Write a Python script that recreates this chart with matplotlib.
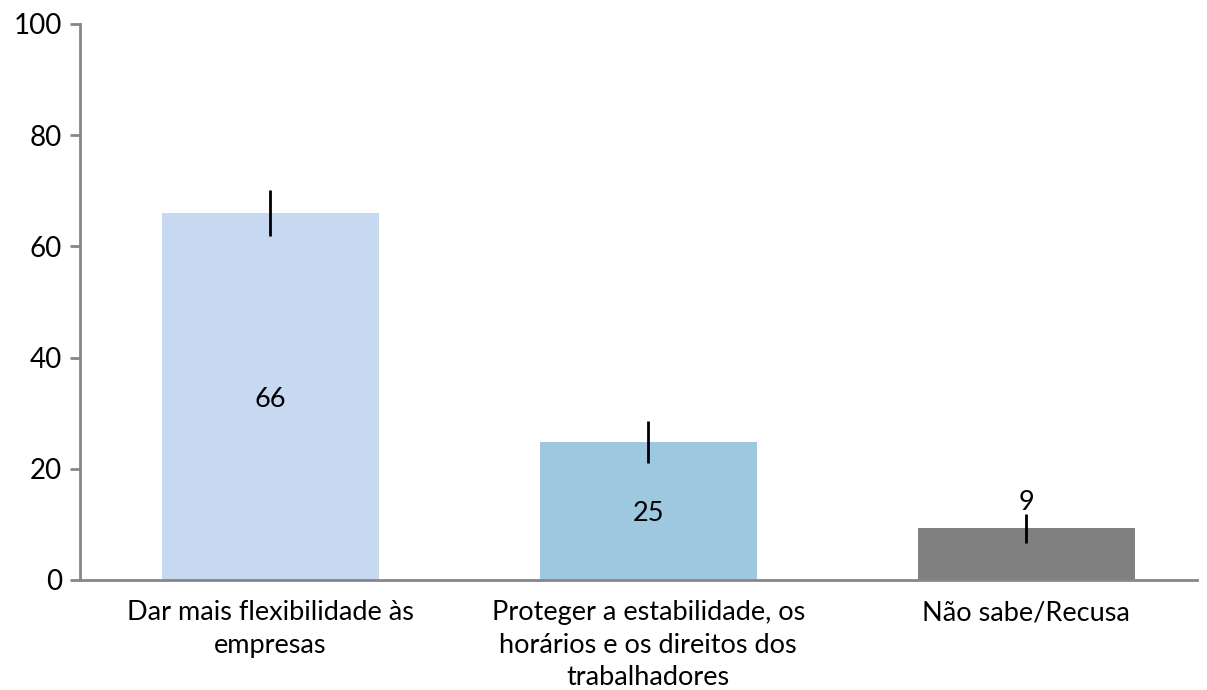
import numpy as np
import matplotlib
matplotlib.use('Agg')
from matplotlib import pyplot as plt

categories = ['Dar mais flexibilidade às\nempresas',
	'Proteger a estabilidade, os\nhorários e os direitos dos\ntrabalhadores',
	'Não sabe/Recusa']
values = [66, 24.8, 9.3]
errors = [4.2, 3.8, 2.6]
labels = ['66', '25', '9']
colors = ['#c6d9f0', '#9dc8e0', '#808080']

plt.rcParams['font.family'] = ['Lato', 'DejaVu Sans']

fig = plt.figure(figsize=(12.07, 6.90), dpi=100)
ax = fig.add_axes([80/1207, 110/690, 1117/1207, 556/690])

x = np.arange(len(categories))
ax.bar(x, values, width=0.574, color=colors, zorder=2)
ax.errorbar(x, values, yerr=errors, fmt='none', ecolor='black', elinewidth=2, capsize=0, zorder=3)

for i, (v, lab) in enumerate(zip(values, labels)):
	if v > 15:
		ax.text(i, v / 2, lab, ha='center', va='center_baseline', fontsize=19.5)
	else:
		ax.text(i, v + 5, lab, ha='center', va='center_baseline', fontsize=19.5)

ax.set_xlim(-0.503, 2.452)
ax.set_ylim(0, 100)
ax.set_yticks([0, 20, 40, 60, 80, 100])
ax.set_xticks(x)
ax.set_xticklabels(categories, fontsize=19.5, linespacing=1.38)
ax.tick_params(axis='y', labelsize=20, length=7, width=2, color='#868686', pad=6)
ax.tick_params(axis='x', length=0, pad=14.5)

for s in ['top', 'right']:
	ax.spines[s].set_visible(False)
for s in ['left', 'bottom']:
	ax.spines[s].set_color('#868686')
	ax.spines[s].set_linewidth(2)

fig.savefig('out.png', dpi=100)
